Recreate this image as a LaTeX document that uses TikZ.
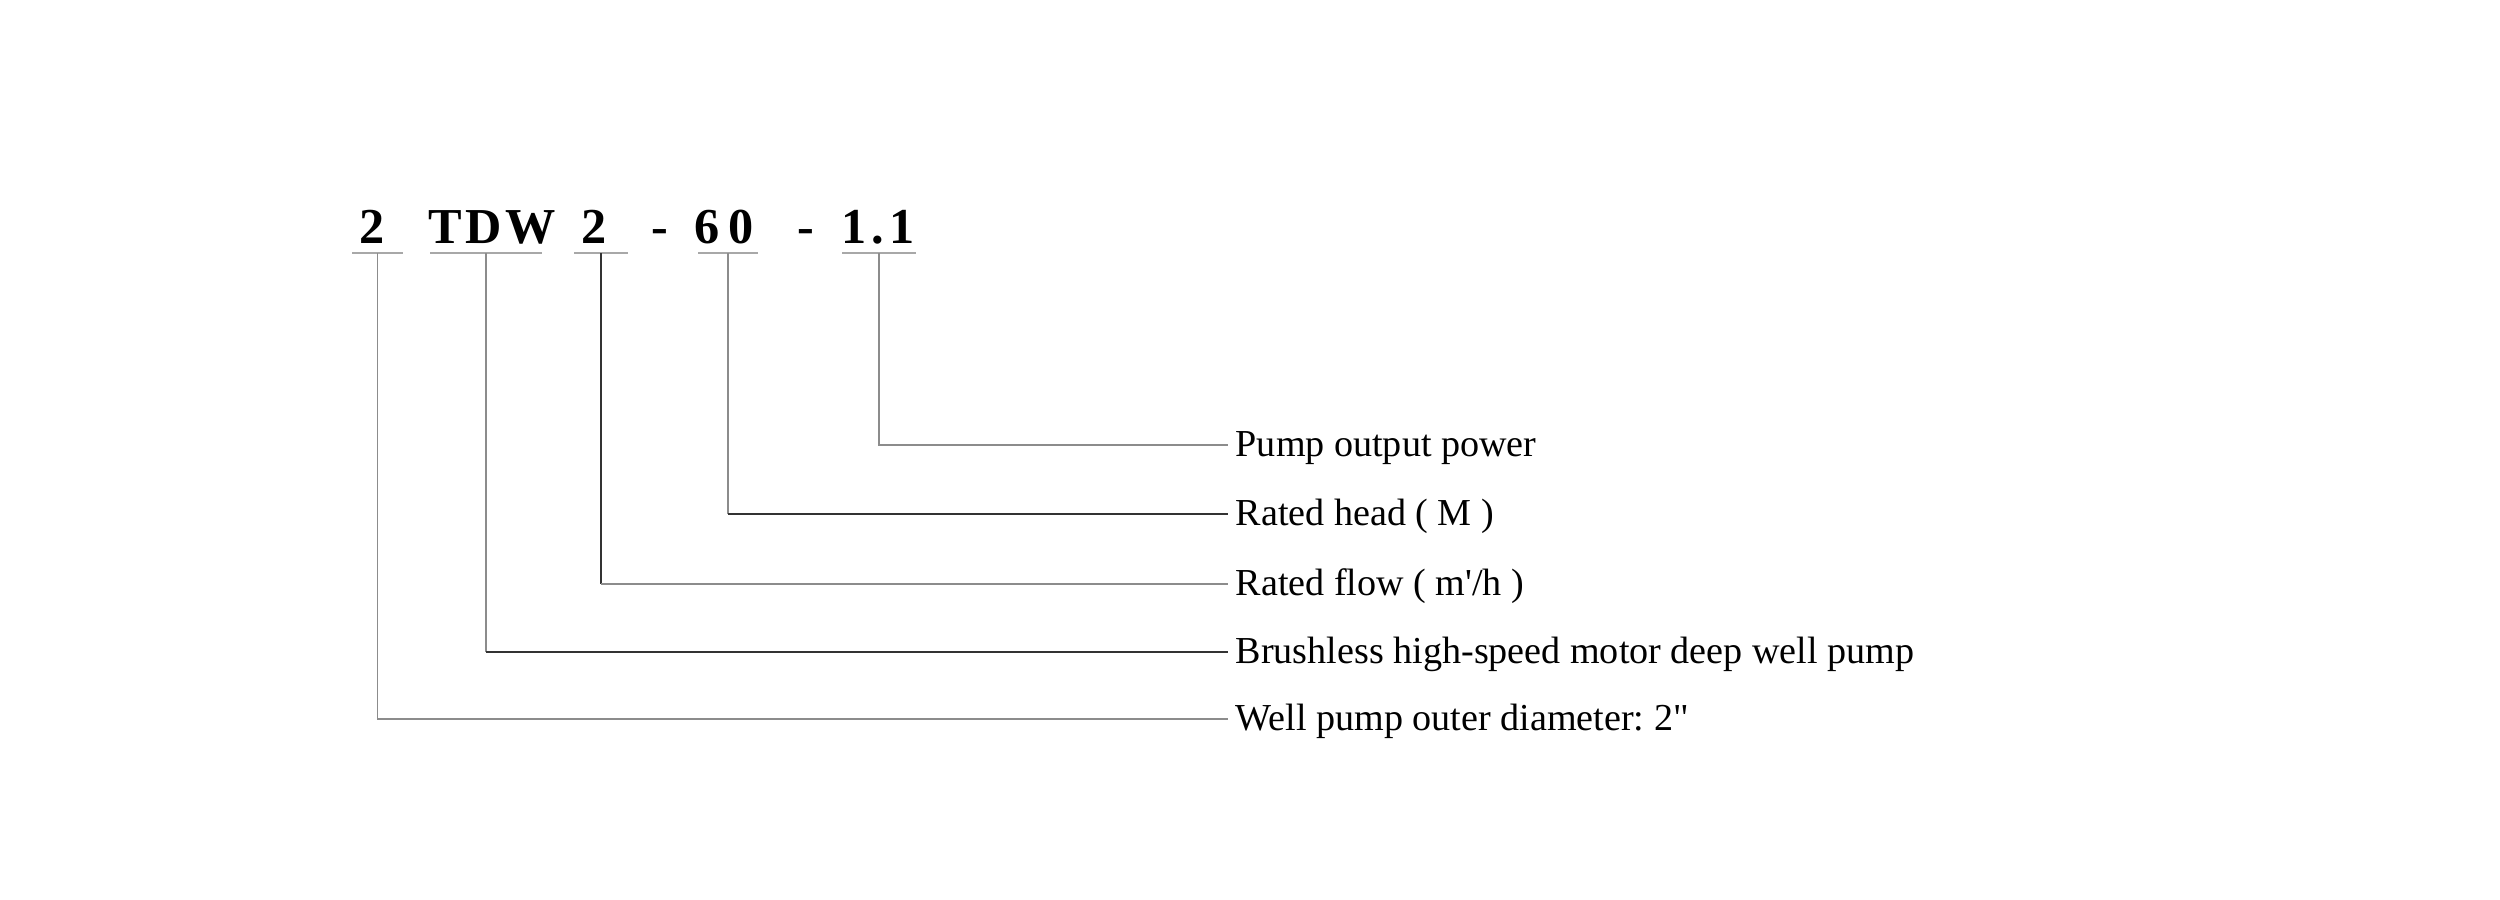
\documentclass[tikz,border=0pt]{standalone}
\usepackage{fontspec}
\setmainfont{Liberation Serif}[Ligatures=TeXOff]
\definecolor{ulgray}{HTML}{A8A8A8}
\definecolor{lgray}{HTML}{8C8C8C}
\definecolor{dgray}{HTML}{333333}
\frenchspacing
\begin{document}
\begin{tikzpicture}[x=0.01cm,y=-0.01cm,
  code/.style={font=\fontsize{14.3}{16}\selectfont\bfseries, inner sep=0pt, anchor=base},
  lab/.style={font=\fontsize{10.84}{13}\selectfont, anchor=west, inner ysep=0pt, inner xsep=2pt, text height=0.85em, text depth=0.22em},
  uline/.style={draw=ulgray, line width=0.85pt},
  conn/.style={draw=lgray, line width=0.55pt},
  dconn/.style={draw=dgray, line width=0.55pt}]
\useasboundingbox[fill=white] (0,0) rectangle (2500,900);
% code
\node[code] (c1) at (372,243) {2};
\node[code] (c2) at (492,243) {T\kern1pt D\kern1pt W};
\node[code] (c3) at (594,243) {2};
\node[code] (d1) at (660,243) {-};
\node[code] (c4) at (724,243) {6\kern2.5pt 0};
\node[code] (d2) at (806,243) {-};
\node[code] (c5) at (878,243) {1\kern1.5pt.\kern1.5pt 1};
% underline centres
\coordinate (u1) at (377.5,253);
\coordinate (u2) at (486,253);
\coordinate (u3) at (601,253);
\coordinate (u4) at (728,253);
\coordinate (u5) at (879,253);
\draw[uline] (u1) ++(-25.5,0) -- ++(51,0);
\draw[uline] (u2) ++(-56,0) -- ++(112,0);
\draw[uline] (u3) ++(-27,0) -- ++(54,0);
\draw[uline] (u4) ++(-30,0) -- ++(60,0);
\draw[uline] (u5) ++(-37,0) -- ++(74,0);
% labels
\node[lab] (l5) at (1228,445) {Pump output power};
\node[lab] (l4) at (1228,514) {Rated head ( M )};
\node[lab] (l3) at (1228,584) {Rated flow ( m'/h )};
\node[lab] (l2) at (1228,652) {Brushless high-speed motor deep well pump};
\node[lab] (l1) at (1228,719) {Well pump outer diameter: 2"};
% connectors
\draw[conn] (u5) |- (l5.west);
\draw[conn] (u4) -- (u4 |- l4.west);
\draw[dconn] (u4 |- l4.west) -- (l4.west);
\draw[dconn] (u3) -- (u3 |- l3.west);
\draw[conn] (u3 |- l3.west) -- (l3.west);
\draw[conn] (u2) -- (u2 |- l2.west);
\draw[dconn] (u2 |- l2.west) -- (l2.west);
\draw[conn] (u1) |- (l1.west);
\end{tikzpicture}
\end{document}
